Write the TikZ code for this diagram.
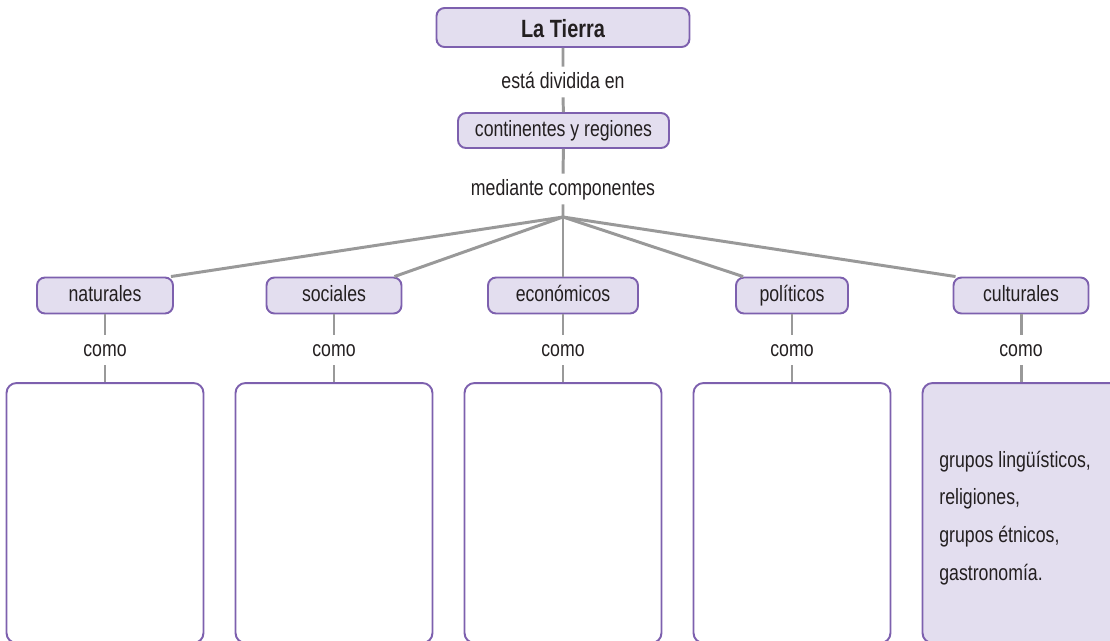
\documentclass[tikz,border=0pt]{standalone}
\usepackage{fontspec}
\setmainfont[FakeStretch=0.8]{Liberation Sans}
\usepackage{tikz}
\definecolor{lila}{HTML}{E3DEEF}
\definecolor{morado}{HTML}{7D60AE}
\definecolor{gris}{HTML}{999999}
\definecolor{tinta}{HTML}{231F20}

\begin{document}
\begin{tikzpicture}[x=0.02cm,y=-0.02cm,
        every node/.style={text=tinta,font=\fontsize{12.6}{14}\selectfont,text height=10pt,text depth=2.7pt},
        caja/.style={draw=morado,line width=1.1pt,fill=lila,rounded corners=0.16cm,minimum height=0.72cm,inner sep=0pt},
        nexo/.style={minimum height=0.6cm,inner sep=0pt},
        hoja/.style={draw=morado,line width=1.1pt,rounded corners=0.2cm,minimum width=3.94cm,minimum height=5.2cm,inner sep=0pt},
        linea/.style={draw=gris,line width=1.7pt}]
        \useasboundingbox (0,0) rectangle (1110,640);
        \clip (0,0) rectangle (1110,640);
        \node[caja,minimum width=5.06cm,minimum height=0.78cm,font=\fontsize{14.2}{16}\selectfont\bfseries,text height=11pt,text depth=0pt] (tierra) at (563,27.5) {La Tierra};
        \node[nexo] (dividida) at (563,82) {está dividida en};
        \node[caja,minimum width=4.22cm,minimum height=0.70cm] (cont) at (563.5,130.5) {continentes y regiones};
        \node[nexo] (medio) at (563,189) {mediante componentes};
        \coordinate (eje) at (563,217);
        \draw[linea] (tierra) -- (dividida) -- (cont);
        \draw[linea] (cont) -- (medio) -- (eje);
        \foreach \nom/\txt/\x/\w in {nat/naturales/105/2.72,soc/sociales/334/2.70,eco/económicos/563/3.00,pol/políticos/792/2.24,cul/culturales/1021/2.70}{
            \node[caja,minimum width=\w cm] (\nom) at (\x,295.5) {\txt};
            \node[nexo] (como\nom) at (\x,350) {como};
        }
        \foreach \nom/\x in {nat/105,soc/334,eco/563,pol/792}{
            \node[hoja] (hoja\nom) at (\x,513) {};
            \draw[linea] (\nom) -- (como\nom) -- (hoja\nom);
        }
        \node[hoja,fill=lila] (hojacul) at (1021,513) {};
        \node[anchor=west,align=left,inner sep=0pt,text height=,text depth=,font=\fontsize{12.6}{21.5}\selectfont] (listacul) at (939,518)
            {grupos lingüísticos,\\religiones,\\grupos étnicos,\\gastronomía.};
        \draw[linea] (cul) -- (comocul) -- (hojacul);
        % abanico de componentes
        \draw[linea] (eje) -- ([xshift=-0.06cm]nat.north east);
        \draw[linea] (eje) -- ([xshift=-0.16cm]soc.north east);
        \draw[linea] (eje) -- (eco);
        \draw[linea] (eje) -- ([xshift=0.16cm]pol.north west);
        \draw[linea] (eje) -- ([xshift=0.06cm]cul.north west);
    \end{tikzpicture}
\end{document}
